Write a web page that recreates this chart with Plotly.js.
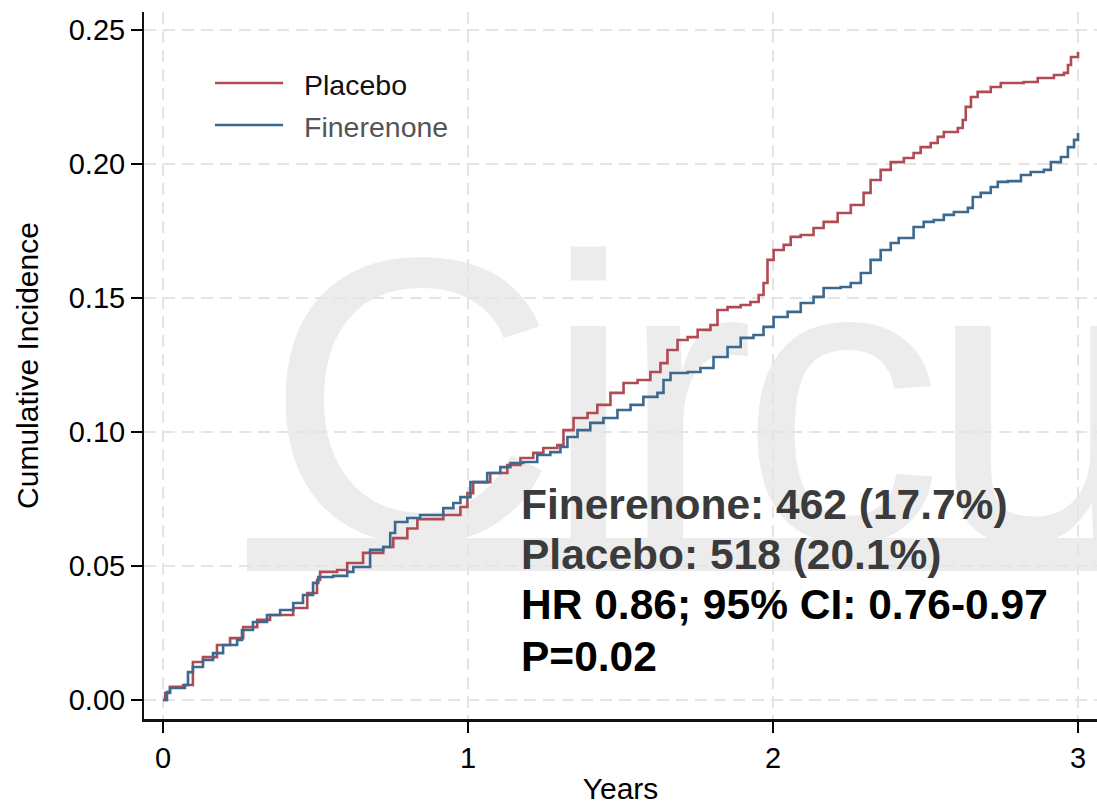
<!DOCTYPE html>
<html>
<head>
<meta charset="utf-8">
<script src="https://cdn.plot.ly/plotly-3.0.1.min.js"></script>
<style>
  html, body { margin: 0; padding: 0; background: #ffffff; }
  #wrap { position: relative; width: 1097px; height: 805px; overflow: hidden; }
  #wm { position: absolute; left: 0; top: 0; }
  #plot { position: absolute; left: 0; top: 0; width: 1097px; height: 805px; }
</style>
</head>
<body>
<div id="wrap">
  <svg id="wm" width="1097" height="805">
    <rect x="247" y="538" width="850" height="33" fill="#ececec"></rect>
    <text x="265" y="540" font-family="Liberation Sans, Arial, sans-serif" font-size="405" letter-spacing="-14" fill="#ececec">Circu</text>
  </svg>
  <div id="plot"></div>
</div>
<script>
// ---- Data ----
const placeboYears = [0, 0.007, 0.023, 0.066, 0.098, 0.131, 0.177, 0.220, 0.263, 0.309, 0.351, 0.427, 0.473, 0.505, 0.515, 0.571, 0.604, 0.656, 0.722, 0.755, 0.801, 0.834, 0.919, 0.975, 0.998, 1.017, 1.073, 1.129, 1.172, 1.214, 1.247, 1.293, 1.313, 1.346, 1.392, 1.424, 1.467, 1.510, 1.556, 1.598, 1.631, 1.654, 1.687, 1.720, 1.753, 1.795, 1.818, 1.851, 1.894, 1.926, 1.953, 1.969, 1.982, 2.002, 2.035, 2.058, 2.091, 2.133, 2.166, 2.212, 2.255, 2.297, 2.320, 2.353, 2.386, 2.429, 2.461, 2.484, 2.517, 2.540, 2.560, 2.606, 2.622, 2.632, 2.649, 2.671, 2.714, 2.747, 2.822, 2.868, 2.921, 2.954, 2.967, 2.977, 3.000];
const placeboInc = [0, 0.0026, 0.0049, 0.0056, 0.0142, 0.0160, 0.0205, 0.0231, 0.0272, 0.0299, 0.0317, 0.0343, 0.0399, 0.0448, 0.0478, 0.0485, 0.0511, 0.0549, 0.0571, 0.0604, 0.0640, 0.0675, 0.0690, 0.0720, 0.0772, 0.0813, 0.0847, 0.0877, 0.0903, 0.0922, 0.0940, 0.0951, 0.1007, 0.1052, 0.1071, 0.1101, 0.1146, 0.1183, 0.1194, 0.1224, 0.1257, 0.1306, 0.1343, 0.1354, 0.1381, 0.1399, 0.1455, 0.1466, 0.1474, 0.1485, 0.1511, 0.1556, 0.1642, 0.1679, 0.1698, 0.1728, 0.1735, 0.1761, 0.1784, 0.1817, 0.1847, 0.1892, 0.1940, 0.1978, 0.2007, 0.2022, 0.2041, 0.2063, 0.2078, 0.2101, 0.2119, 0.2134, 0.2164, 0.2213, 0.2250, 0.2269, 0.2287, 0.2302, 0.2306, 0.2321, 0.2332, 0.2340, 0.2369, 0.2399, 0.2418];

const fineYears = [0, 0.013, 0.023, 0.072, 0.082, 0.098, 0.131, 0.164, 0.197, 0.243, 0.259, 0.295, 0.341, 0.384, 0.427, 0.459, 0.492, 0.509, 0.558, 0.604, 0.624, 0.679, 0.722, 0.745, 0.761, 0.801, 0.843, 0.919, 0.952, 0.975, 1.008, 1.063, 1.106, 1.139, 1.181, 1.227, 1.270, 1.303, 1.326, 1.359, 1.401, 1.444, 1.490, 1.533, 1.575, 1.621, 1.641, 1.664, 1.720, 1.762, 1.805, 1.851, 1.894, 1.936, 1.969, 2.002, 2.048, 2.091, 2.133, 2.166, 2.222, 2.255, 2.288, 2.320, 2.353, 2.386, 2.412, 2.461, 2.494, 2.527, 2.560, 2.593, 2.639, 2.655, 2.681, 2.714, 2.737, 2.770, 2.813, 2.845, 2.888, 2.911, 2.944, 2.967, 2.987, 3.000];
const fineInc = [0, 0.0030, 0.0045, 0.0056, 0.0104, 0.0123, 0.0149, 0.0175, 0.0205, 0.0224, 0.0261, 0.0291, 0.0317, 0.0336, 0.0362, 0.0392, 0.0437, 0.0459, 0.0463, 0.0478, 0.0496, 0.0560, 0.0571, 0.0623, 0.0664, 0.0679, 0.0690, 0.0716, 0.0735, 0.0757, 0.0813, 0.0847, 0.0869, 0.0884, 0.0888, 0.0914, 0.0925, 0.0944, 0.0981, 0.1007, 0.1034, 0.1052, 0.1082, 0.1101, 0.1131, 0.1146, 0.1194, 0.1220, 0.1224, 0.1239, 0.1280, 0.1317, 0.1351, 0.1362, 0.1392, 0.1429, 0.1448, 0.1481, 0.1504, 0.1537, 0.1541, 0.1556, 0.1593, 0.1642, 0.1679, 0.1705, 0.1724, 0.1765, 0.1784, 0.1791, 0.1810, 0.1821, 0.1836, 0.1877, 0.1892, 0.1914, 0.1933, 0.1936, 0.1959, 0.1970, 0.1978, 0.2007, 0.2026, 0.2063, 0.2090, 0.2116];

const seriesNames = ["Placebo", "Finerenone"];
const xTicks = [0, 1, 2, 3];
const xTickLabels = ["0", "1", "2", "3"];
const yTicks = [0, 0.05, 0.10, 0.15, 0.20, 0.25];
const yTickLabels = ["0.00", "0.05", "0.10", "0.15", "0.20", "0.25"];
const statLines = ["Finerenone: 462 (17.7%)", "Placebo: 518 (20.1%)", "HR 0.86; 95% CI: 0.76-0.97", "P=0.02"];

// ---- Styles ----
const RED = "#b04b53";
const BLUE = "#3c6990";
const FONT = "Liberation Sans, Arial, Helvetica, sans-serif";

const traces = [
  { x: placeboYears, y: placeboInc, name: seriesNames[0], type: "scatter", mode: "lines",
    line: { color: RED, width: 2.6, shape: "hv" }, showlegend: false },
  { x: fineYears, y: fineInc, name: seriesNames[1], type: "scatter", mode: "lines",
    line: { color: BLUE, width: 2.6, shape: "hv" }, showlegend: false }
];

// plot area in paper coords: left 144px, right 1097px, top 12px, bottom 719px
const legendRows = [0.8996, 0.8402];
const legendColors = [RED, BLUE];
const legendTextColors = ["#111111", "#555555"];

const shapes = [];
const annotations = [];
seriesNames.forEach((n, i) => {
  shapes.push({ type: "line", xref: "paper", yref: "paper", x0: 0.0745, x1: 0.1459,
    y0: legendRows[i], y1: legendRows[i], line: { color: legendColors[i], width: 2.6 } });
  annotations.push({ xref: "paper", yref: "paper", x: 0.1655, y: legendRows[i] - 0.003,
    xanchor: "left", yanchor: "middle", showarrow: false, text: n,
    font: { family: FONT, size: 28.5, color: legendTextColors[i] } });
});

const statY = [0.304, 0.233, 0.162, 0.088];
const statColors = ["#3b3b3b", "#3b3b3b", "#000000", "#000000"];
statLines.forEach((t, i) => {
  annotations.push({ xref: "paper", yref: "paper", x: 0.3935, y: statY[i],
    xanchor: "left", yanchor: "middle", showarrow: false, text: "<b>" + t + "</b>",
    font: { family: FONT, size: 42.5, color: statColors[i] } });
});

const layout = {
  width: 1097, height: 805,
  margin: { l: 144, r: 0, t: 12, b: 86 },
  paper_bgcolor: "rgba(0,0,0,0)",
  plot_bgcolor: "rgba(0,0,0,0)",
  font: { family: FONT, color: "#000000" },
  xaxis: {
    range: [-0.0623, 3.0623], tickvals: xTicks, ticktext: xTickLabels,
    ticks: "outside", ticklen: 11, tickwidth: 2, tickcolor: "#000000",
    showline: true, linecolor: "#111111", linewidth: 2.5,
    showgrid: true, gridcolor: "#e4e4e4", gridwidth: 1.5, griddash: "12px,7px",
    zeroline: false, tickfont: { family: FONT, size: 29, color: "#000000" },
    title: { text: "Years", font: { family: FONT, size: 30, color: "#000000" }, standoff: 22 },
    automargin: false
  },
  yaxis: {
    range: [-0.00709, 0.2567], tickvals: yTicks, ticktext: yTickLabels,
    ticks: "outside", ticklen: 11, tickwidth: 2, tickcolor: "#000000",
    showline: true, linecolor: "#111111", linewidth: 2,
    showgrid: true, gridcolor: "#e4e4e4", gridwidth: 1.5, griddash: "12px,7px",
    zeroline: false, tickfont: { family: FONT, size: 29, color: "#000000" },
    title: { text: "Cumulative Incidence", font: { family: FONT, size: 30, color: "#000000" }, standoff: 21 },
    automargin: false
  },
  shapes: shapes,
  annotations: annotations,
  showlegend: false,
  hovermode: "closest"
};

Plotly.newPlot("plot", traces, layout, { displayModeBar: false, responsive: false });
</script>
</body>
</html>
